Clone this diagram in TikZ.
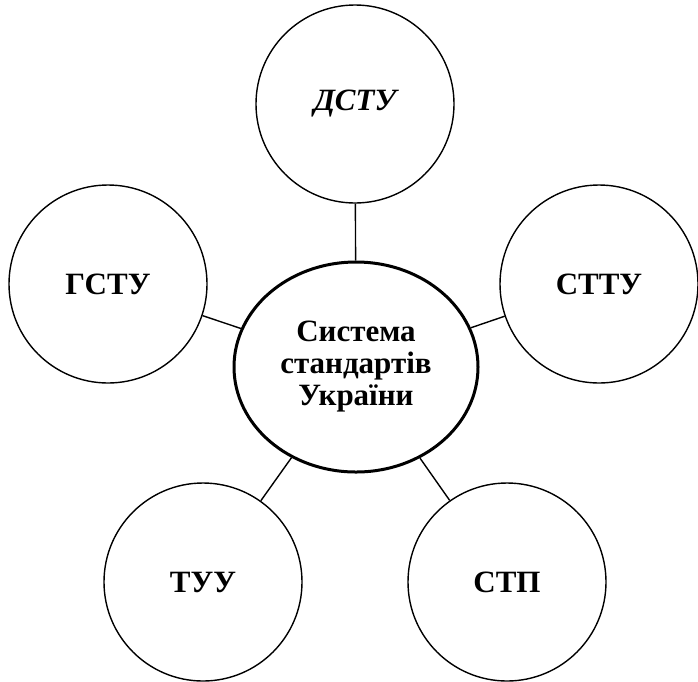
\documentclass[tikz,border=0pt]{standalone}
\usepackage{fontspec}
\setmainfont{Liberation Serif}
\usetikzlibrary{shapes.geometric}
\begin{document}
\begin{tikzpicture}[x=1pt,y=-1pt,
  outer/.style={circle, draw, line width=1.4pt, minimum size=198pt, inner sep=0pt,
    font=\fontsize{31}{33}\selectfont\bfseries},
  hub/.style={ellipse, draw, line width=3pt, minimum width=244pt, minimum height=210pt,
    inner sep=0pt, align=center, font=\fontsize{31}{32}\selectfont\bfseries},
  link/.style={line width=1.4pt}]
\useasboundingbox (0,0) rectangle (698,681);
\clip (0,0) rectangle (698,681);
\node[hub] (c) at (356,367) {Система\\стандартів\\України};
\node[outer] (t) at (355,104) {\itshape ДСТУ};
\node[outer] (l) at (108,284) {ГСТУ};
\node[outer] (r) at (599,284) {СТТУ};
\node[outer] (bl) at (203,582) {ТУУ};
\node[outer] (br) at (507,582) {СТП};
\draw[link] (c) -- (t);
\draw[link] (c) -- (l);
\draw[link] (c) -- (r);
\draw[link] (c) -- (bl);
\draw[link] (c) -- (br);
\end{tikzpicture}
\end{document}
